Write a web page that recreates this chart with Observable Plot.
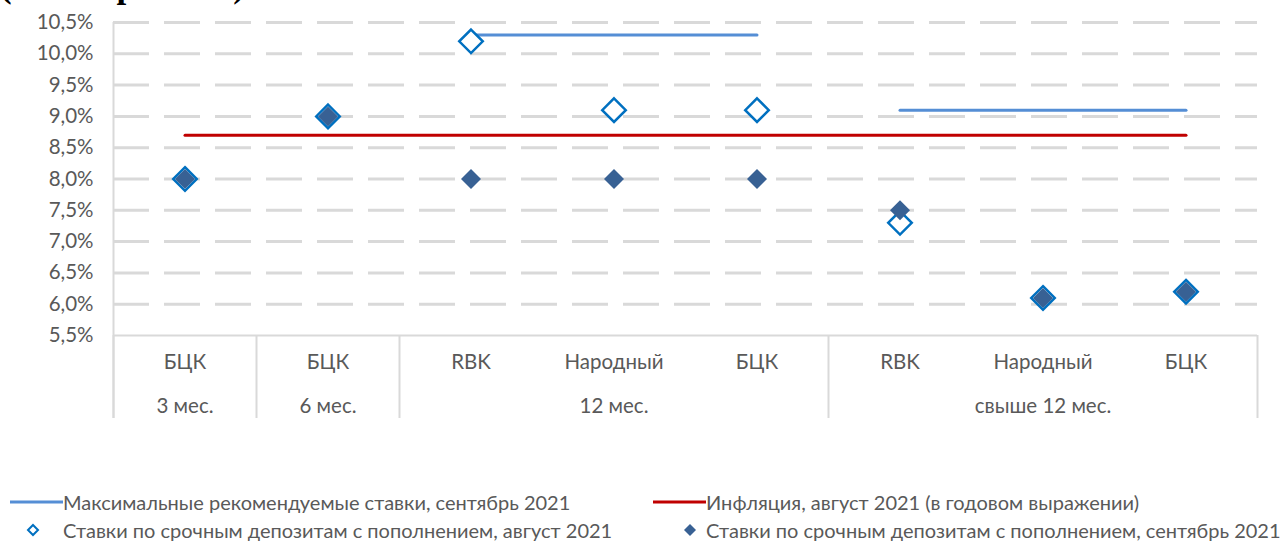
<!DOCTYPE html>
<html><head><meta charset="utf-8">
<script src="https://cdn.jsdelivr.net/npm/d3@7"></script>
<script src="https://cdn.jsdelivr.net/npm/@observablehq/plot@0.6"></script>
<style>
body{margin:0;background:#fff;font-family:Lato,sans-serif;}
#wrap{position:relative;width:1283px;height:542px;overflow:hidden;background:#fff;}
#title{position:absolute;left:0;top:-31px;font:bold 35px "Liberation Serif",serif;line-height:34px;color:#000;white-space:nowrap;}
#chart{position:absolute;left:0;top:0;}
.leg{position:absolute;font-size:20px;line-height:20px;color:#595959;white-space:nowrap;}
.sw{position:absolute;}
</style></head><body>
<div id="wrap"><div id="chart"></div><div id="title">(сентябрь 2021)</div><div id="legend"></div></div>
<script>
// ---- data ----
const banks = ["БЦК", "БЦК", "RBK", "Народный", "БЦК", "RBK", "Народный", "БЦК"];
const terms = ["3 мес.", "6 мес.", "12 мес.", "12 мес.", "12 мес.", "свыше 12 мес.", "свыше 12 мес.", "свыше 12 мес."];
const augustRates = [8.0, 9.0, 10.2, 9.1, 9.1, 7.3, 6.1, 6.2];
const septemberRates = [8.0, 9.0, 8.0, 8.0, 8.0, 7.5, 6.1, 6.2];
const inflation = [8.7, 8.7, 8.7, 8.7, 8.7, 8.7, 8.7, 8.7];
const maxRecommended = [null, null, 10.3, 10.3, 10.3, 9.1, 9.1, 9.1];
const yTicks = [5.5, 6.0, 6.5, 7.0, 7.5, 8.0, 8.5, 9.0, 9.5, 10.0, 10.5];
const seriesNames = [
  "Максимальные рекомендуемые ставки, сентябрь 2021",
  "Инфляция, август 2021 (в годовом выражении)",
  "Ставки по срочным депозитам с пополнением, август 2021",
  "Ставки по срочным депозитам с пополнением, сентябрь 2021"
];

// ---- derived ----
const idx = banks.map((_, i) => i);
const groups = [];
terms.forEach((t, i) => {
  const g = groups[groups.length - 1];
  if (g && g.name === t) g.end = i; else groups.push({name: t, start: i, end: i});
});
const dividers = groups.map(g => g.start - 0.5).concat([groups[groups.length - 1].end + 0.5]);
const yMin = yTicks[0], yMax = yTicks[yTicks.length - 1];
const fmt = d => d.toFixed(1).replace(".", ",") + "%";

const C = {grid: "#d9d9d9", axis: "#d9d9d9", txt: "#595959", blue: "#558ED5", red: "#C00000", open: "#0070C0", fill: "#386194"};
const FS = 20.5;

const chart = Plot.plot({
  width: 1283, height: 430,
  marginLeft: 113, marginRight: 26, marginTop: 22, marginBottom: 95,
  style: {color: C.txt, fontFamily: "Lato, sans-serif", background: "transparent", overflow: "visible"},
  x: {type: "linear", domain: [-0.5, idx.length - 0.5], axis: null},
  y: {domain: [yMin, yMax], axis: null},
  marks: [
    Plot.ruleY(yTicks.filter(t => t > yMin), {stroke: C.grid, strokeWidth: 3, strokeDasharray: "36,15"}),
    Plot.ruleY([yMin], {stroke: C.axis, strokeWidth: 2}),
    Plot.ruleX(dividers, {y1: () => yMin, y2: () => yMin, insetBottom: -83, stroke: C.axis, strokeWidth: 2}),
    Plot.ruleX([dividers[0]], {y1: () => yMax, y2: () => yMin, insetBottom: -83, stroke: C.axis, strokeWidth: 2}),
    Plot.axisY(yTicks, {tickSize: 0, tickPadding: 20, tickFormat: fmt, fontSize: FS, fill: C.txt}),
    Plot.text(idx, {x: i => i, text: i => banks[i], frameAnchor: "bottom", lineAnchor: "middle", dy: 27, fontSize: FS, fill: C.txt}),
    Plot.text(groups, {x: g => (g.start + g.end) / 2, text: g => g.name, frameAnchor: "bottom", lineAnchor: "middle", dy: 71, fontSize: FS, fill: C.txt}),
    Plot.line(idx, {x: i => i, y: i => inflation[i], stroke: C.red, strokeWidth: 3}),
    Plot.line(idx.filter(i => maxRecommended[i] != null), {x: i => i, y: i => maxRecommended[i], z: i => terms[i], stroke: C.blue, strokeWidth: 3}),
    Plot.dot(idx, {x: i => i, y: i => augustRates[i], symbol: "diamond2", r: 10.6, fill: "white", stroke: C.open, strokeWidth: 2.5}),
    Plot.dot(idx, {x: i => i, y: i => septemberRates[i], symbol: "diamond2", r: 9, fill: C.fill, stroke: "none"})
  ]
});
document.getElementById("chart").appendChild(chart);

// ---- legend ----
const leg = document.getElementById("legend");
const items = [
  {x: 10, y: 502, kind: "line", color: C.blue, name: seriesNames[0]},
  {x: 653, y: 502, kind: "line", color: C.red, name: seriesNames[1]},
  {x: 10, y: 530, kind: "open", color: C.open, name: seriesNames[2]},
  {x: 653, y: 530, kind: "fill", color: C.fill, name: seriesNames[3]}
];
items.forEach(it => {
  const sw = document.createElementNS("http://www.w3.org/2000/svg", "svg");
  sw.setAttribute("width", 53); sw.setAttribute("height", 20);
  sw.setAttribute("class", "sw");
  sw.style.left = it.x + "px"; sw.style.top = (it.y - 10) + "px";
  if (it.kind === "line") {
    sw.innerHTML = `<line x1="0" x2="53" y1="10" y2="10" stroke="${it.color}" stroke-width="3"/>`;
  } else if (it.kind === "open") {
    sw.innerHTML = `<path d="M23,5 L28,10 L23,15 L18,10Z" fill="white" stroke="${it.color}" stroke-width="2"/>`;
  } else {
    sw.innerHTML = `<path d="M37,4 L43,10 L37,16 L31,10Z" fill="${it.color}"/>`;
  }
  leg.appendChild(sw);
  const t = document.createElement("div");
  t.className = "leg";
  t.style.left = (it.x + 53) + "px"; t.style.top = (it.y - 10) + "px";
  t.textContent = it.name;
  leg.appendChild(t);
});
</script>
</body></html>
